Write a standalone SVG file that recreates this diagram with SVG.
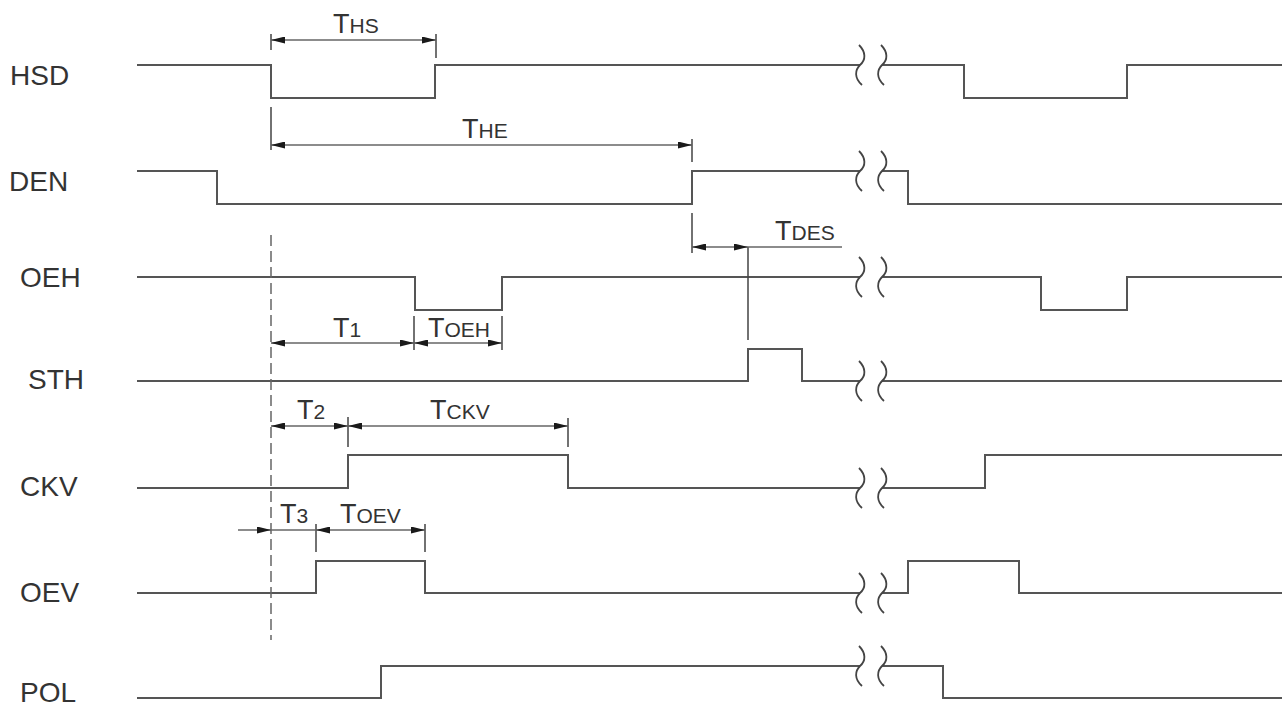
<svg xmlns="http://www.w3.org/2000/svg" xmlns:xlink="http://www.w3.org/1999/xlink" width="1285" height="709" viewBox="0 0 1285 709">
<style>
.sig{fill:none;stroke:#555;stroke-width:2;stroke-linejoin:miter}
.brk{fill:none;stroke:#444;stroke-width:1.8}
.lbl{font-family:"Liberation Sans",Arial,sans-serif;font-size:28px;fill:#333}
.dim{fill:none;stroke:#666;stroke-width:1.5}
.dar{fill:none;stroke:#666;stroke-width:1.5;marker-start:url(#ah);marker-end:url(#ah)}
.ext{fill:none;stroke:#444;stroke-width:1.5}
.dash{fill:none;stroke:#666;stroke-width:1.5;stroke-dasharray:11 5}
.tl{font-family:"Liberation Sans",Arial,sans-serif;font-size:27px;fill:#333}
.ts{font-size:21px}
</style>
<defs>
<marker id="ah" viewBox="0 0 14 7" markerWidth="14" markerHeight="7" refX="14" refY="3.5" orient="auto-start-reverse" markerUnits="userSpaceOnUse">
<path d="M0,0 L14,3.5 L0,7 Z" fill="#1a1a1a"/>
</marker>
<path id="bk" class="brk" d="M-1,-20 C6,-13 6,-5 0,0 C-5,5 -6,13 2,20"/>
</defs>
<rect width="1285" height="709" fill="#fff"/>

<g id="HSD">
<text class="lbl" x="10" y="85">HSD</text>
<path class="sig" d="M137,65 H271 V98 H435 V65 H860 M882,65 H964 V98 H1127 V65 H1282"/>
<use xlink:href="#bk" href="#bk" x="860" y="65"/><use xlink:href="#bk" href="#bk" x="882" y="65"/>
</g>
<g id="DEN">
<text class="lbl" x="9" y="191">DEN</text>
<path class="sig" d="M137,171 H217 V204 H692 V171 H860 M882,171 H908 V204 H1282"/>
<use xlink:href="#bk" href="#bk" x="860" y="171"/><use xlink:href="#bk" href="#bk" x="882" y="171"/>
</g>
<g id="OEH">
<text class="lbl" x="20" y="287">OEH</text>
<path class="sig" d="M137,277 H415 V310 H502 V277 H860 M882,277 H1041 V310 H1127 V277 H1282"/>
<use xlink:href="#bk" href="#bk" x="860" y="277"/><use xlink:href="#bk" href="#bk" x="882" y="277"/>
</g>
<g id="STH">
<text class="lbl" x="28" y="389">STH</text>
<path class="sig" d="M137,381 H748 V349 H802 V381 H860 M882,381 H1282"/>
<use xlink:href="#bk" href="#bk" x="860" y="381"/><use xlink:href="#bk" href="#bk" x="882" y="381"/>
</g>
<g id="CKV">
<text class="lbl" x="20" y="496">CKV</text>
<path class="sig" d="M137,488 H348 V455 H568 V488 H860 M882,488 H985 V455 H1282"/>
<use xlink:href="#bk" href="#bk" x="860" y="488"/><use xlink:href="#bk" href="#bk" x="882" y="488"/>
</g>
<g id="OEV">
<text class="lbl" x="20" y="602">OEV</text>
<path class="sig" d="M137,593 H316 V561 H425 V593 H860 M882,593 H908 V561 H1019 V593 H1282"/>
<use xlink:href="#bk" href="#bk" x="860" y="593"/><use xlink:href="#bk" href="#bk" x="882" y="593"/>
</g>
<g id="POL">
<text class="lbl" x="20" y="702">POL</text>
<path class="sig" d="M137,698 H381 V666 H860 M882,666 H943 V698 H1282"/>
<use xlink:href="#bk" href="#bk" x="860" y="666"/><use xlink:href="#bk" href="#bk" x="882" y="666"/>
</g>

<g id="connectors">
<line class="dash" x1="271" y1="235" x2="271" y2="640"/>
<path class="ext" d="M271,34 V50 M436,34 V58 M271,107 V150 M692,139 V162 M692,213 V253 M748,247 V340 M414,316 V350 M502,316 V350 M348,417 V447 M568,418 V447 M316,524 V552 M425,524 V552"/>
<line class="dar" x1="271" y1="40" x2="436" y2="40"/>
<line class="dar" x1="271" y1="145" x2="692" y2="145"/>
<line class="dar" x1="692" y1="247" x2="748" y2="247"/>
<line class="dim" x1="748" y1="247" x2="842" y2="247"/>
<line class="dar" x1="271" y1="343" x2="414" y2="343"/>
<line class="dar" x1="414" y1="343" x2="502" y2="343"/>
<line class="dar" x1="271" y1="426" x2="348" y2="426"/>
<line class="dar" x1="348" y1="426" x2="568" y2="426"/>
<line class="dim" x1="238" y1="530" x2="271" y2="530" marker-end="url(#ah)"/>
<line class="dim" x1="271" y1="530" x2="316" y2="530"/>
<line class="dar" x1="316" y1="530" x2="425" y2="530"/>
</g>

<g id="labels">
<text class="tl" x="333" y="33">T<tspan class="ts">HS</tspan></text>
<text class="tl" x="462" y="138">T<tspan class="ts">HE</tspan></text>
<text class="tl" x="775" y="240">T<tspan class="ts">DES</tspan></text>
<text class="tl" x="333" y="337">T<tspan class="ts">1</tspan></text>
<text class="tl" x="428" y="337">T<tspan class="ts">OEH</tspan></text>
<text class="tl" x="297" y="419">T<tspan class="ts">2</tspan></text>
<text class="tl" x="430" y="419">T<tspan class="ts">CKV</tspan></text>
<text class="tl" x="280" y="523">T<tspan class="ts">3</tspan></text>
<text class="tl" x="340" y="523">T<tspan class="ts">OEV</tspan></text>
</g>
</svg>
